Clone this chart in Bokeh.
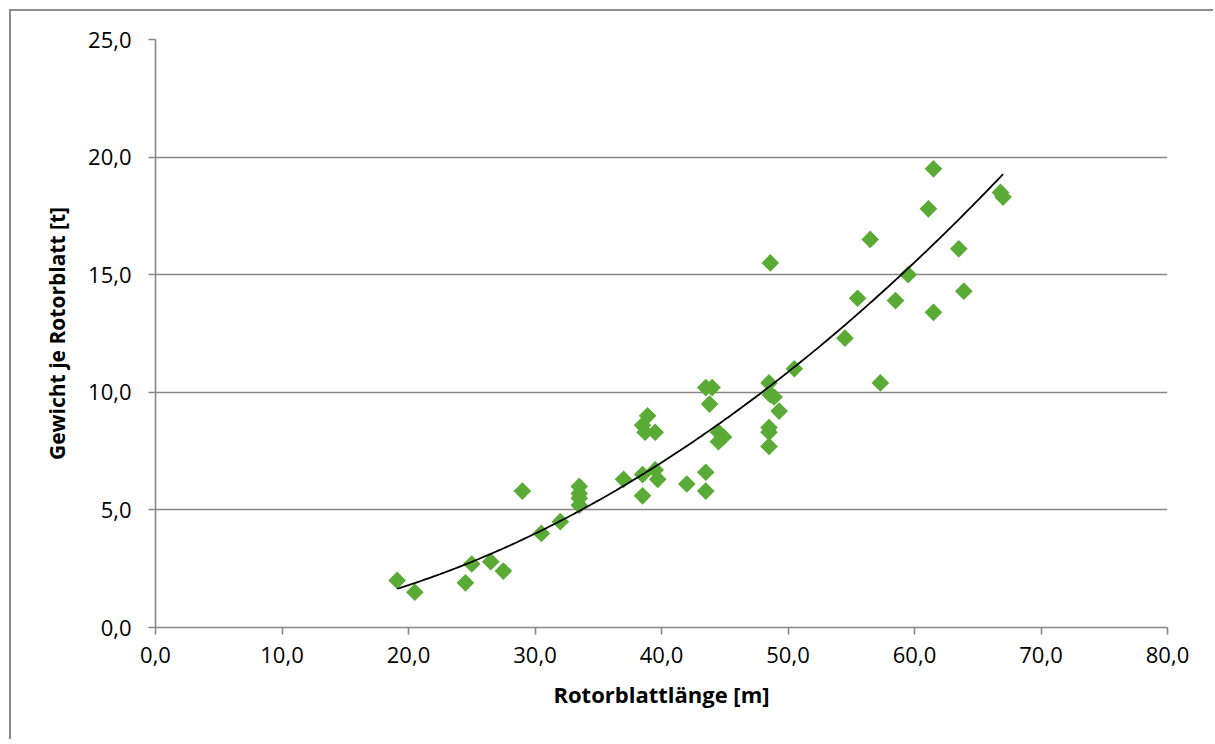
import numpy as np
from bokeh.plotting import figure
from bokeh.models import FixedTicker, Range1d
from bokeh.embed import file_html
from bokeh.resources import INLINE

# Rotor blade length [m] and weight per blade [t]
blade_length = [19.1, 20.5, 24.5, 25.0, 26.5, 27.5, 29.0, 30.5, 32.0, 33.5, 33.5, 33.5, 33.5,
                37.0, 38.5, 38.5, 38.5, 38.7, 38.9, 39.5, 39.5, 39.7, 42.0, 43.5, 43.5, 43.5,
                43.8, 44.0, 44.5, 44.5, 44.9, 48.5, 48.6, 48.9, 49.3, 48.5, 48.5, 48.5, 48.6,
                50.5, 54.5, 55.5, 56.5, 57.3, 58.5, 59.5, 61.1, 61.5, 61.5, 63.5, 63.9, 66.8, 67.0]
blade_weight = [2.0, 1.5, 1.9, 2.7, 2.8, 2.4, 5.8, 4.0, 4.5, 6.0, 5.7, 5.5, 5.2,
                6.3, 6.5, 5.6, 8.6, 8.3, 9.0, 6.7, 8.3, 6.3, 6.1, 6.6, 5.8, 10.2,
                9.5, 10.2, 8.3, 7.9, 8.1, 10.4, 9.9, 9.8, 9.2, 8.5, 8.3, 7.7, 15.5,
                11.0, 12.3, 14.0, 16.5, 10.4, 13.9, 15.0, 17.8, 19.5, 13.4, 16.1, 14.3, 18.5, 18.3]

# power trendline y = a * x^b, parameters
trend_a = 0.00508
trend_b = 1.96

x_ticks = [0, 10, 20, 30, 40, 50, 60, 70, 80]
x_tick_labels = ["0,0", "10,0", "20,0", "30,0", "40,0", "50,0", "60,0", "70,0", "80,0"]
y_ticks = [0, 5, 10, 15, 20, 25]
y_tick_labels = ["0,0", "5,0", "10,0", "15,0", "20,0", "25,0"]
x_title = "Rotorblattlänge [m]"
y_title = "Gewicht je Rotorblatt [t]"

GRAY = "#878787"
GREEN = "#5aab35"

trend_x = np.linspace(min(blade_length), max(blade_length), 200)
trend_y = trend_a * trend_x ** trend_b

p = figure(frame_width=1012, frame_height=588,
           x_range=Range1d(0, 80), y_range=Range1d(0, 25),
           output_backend="svg", toolbar_location=None,
           min_border_left=144, min_border_top=28, min_border_right=46, min_border_bottom=112)
p.outline_line_color = None
p.background_fill_color = "white"
p.border_fill_color = "white"
p.styles = {"border-left": "2px solid #8c8c8c", "border-top": "2px solid #8c8c8c",
            "margin-left": "9px", "margin-top": "9px"}

p.xgrid.visible = False
p.ygrid.ticker = FixedTicker(ticks=y_ticks)
p.ygrid.grid_line_color = GRAY
p.ygrid.grid_line_width = 1.6

for ax in (p.xaxis[0], p.yaxis[0]):
    ax.axis_line_color = GRAY
    ax.axis_line_width = 1.6
    ax.major_tick_line_color = GRAY
    ax.major_tick_line_width = 1.6
    ax.major_tick_out = 7
    ax.major_tick_in = 0
    ax.minor_tick_line_color = None
    ax.major_label_text_font = "Open Sans"
    ax.major_label_text_font_size = "22px"
    ax.major_label_text_color = "black"
    ax.axis_label_text_font = "Open Sans"
    ax.axis_label_text_font_style = "bold"
    ax.axis_label_text_font_size = "22px"
    ax.axis_label_text_color = "black"

p.xaxis.ticker = FixedTicker(ticks=x_ticks)
p.xaxis.major_label_overrides = dict(zip(x_ticks, x_tick_labels))
p.xaxis.major_label_standoff = 12
p.xaxis.axis_label = x_title
p.xaxis.axis_label_standoff = 13

p.yaxis.ticker = FixedTicker(ticks=y_ticks)
p.yaxis.major_label_overrides = dict(zip(y_ticks, y_tick_labels))
p.yaxis.major_label_standoff = 17
p.yaxis.axis_label = y_title
p.yaxis.axis_label_standoff = 14
p.yaxis.axis_label_text_font_size = "21px"

p.scatter(blade_length, blade_weight, marker="square", size=12.5, angle=np.pi / 4,
          fill_color=GREEN, line_color=None)
p.line(trend_x, trend_y, line_color="black", line_width=1.8)

open("out.html", "w").write(file_html(p, INLINE))
